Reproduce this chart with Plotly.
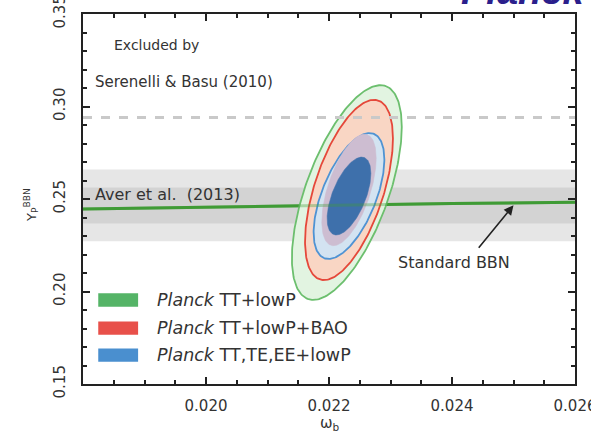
import numpy as np
import plotly.graph_objects as go

# ---------------- data ----------------
xrange_ = [0.018, 0.026]
yrange_ = [0.15, 0.35]
x_ticks = [0.020, 0.022, 0.024, 0.026]
x_ticklabels = ["0.020", "0.022", "0.024", "0.026"]
y_ticks = [0.15, 0.20, 0.25, 0.30, 0.35]
y_ticklabels = ["0.15", "0.20", "0.25", "0.30", "0.35"]

# Standard BBN prediction Yp(omega_b)
bbn_omegab = [0.018, 0.020, 0.022, 0.024, 0.026]
bbn_yp = [0.2446, 0.2457, 0.2467, 0.2475, 0.2482]

# Aver et al. (2013) helium measurement
aver_mean = 0.2465
aver_sigma = 0.0097

# Serenelli & Basu (2010) upper limit
serenelli_limit = 0.294

# Planck posterior (Gaussian approximation): mean wb, mean Yp, sigma wb, sigma Yp, rho
series_names = ["TT+lowP", "TT+lowP+BAO", "TT,TE,EE+lowP"]
mean_wb = [0.02229, 0.022325, 0.022325]
mean_yp = [0.2535, 0.2549, 0.2516]
sig_wb = [0.000365, 0.000292, 0.000235]
sig_yp = [0.0237, 0.0199, 0.0139]
rho = [0.61, 0.57, 0.58]

r68 = 1.515
r95 = 2.448

line_colors = ["#6cbf6e", "#e5483a", "#4f93d3"]
fill95 = ["#e2f4e1", "#f9d6c4", "#d3e3f1"]
fill68 = ["#b9e0b6", "#cdbdd1", "#3e70ab"]
legend_colors = ["#55b467", "#e8504a", "#4a8fcf"]


def ellipse(i, r):
    t = np.linspace(0, 2 * np.pi, 240)
    x = mean_wb[i] + r * sig_wb[i] * np.cos(t)
    y = mean_yp[i] + r * sig_yp[i] * (rho[i] * np.cos(t) + np.sqrt(1 - rho[i] ** 2) * np.sin(t))
    return x, y


fig = go.Figure()

# BBN line underneath
fig.add_trace(go.Scatter(x=bbn_omegab, y=bbn_yp, mode="lines",
                         line=dict(color="#3f9b35", width=3), showlegend=False, hoverinfo="skip"))

# contours: green, red, blue
order = [(0, 95), (0, 68), (1, 95), (2, 95), (1, 68), (2, 68)]
for i, lev in order:
    r = r95 if lev == 95 else r68
    x, y = ellipse(i, r)
    if lev == 95:
        fig.add_trace(go.Scatter(x=x, y=y, mode="lines", fill="toself", fillcolor=fill95[i],
                                 line=dict(color=line_colors[i], width=1.8),
                                 showlegend=False, hoverinfo="skip"))
    else:
        fig.add_trace(go.Scatter(x=x, y=y, mode="lines", fill="toself", fillcolor=fill68[i],
                                 line=dict(color=fill68[i], width=0.5),
                                 showlegend=False, hoverinfo="skip"))

# BBN line faintly on top
fig.add_trace(go.Scatter(x=bbn_omegab, y=bbn_yp, mode="lines", opacity=0.35,
                         line=dict(color="#3f9b35", width=3), showlegend=False, hoverinfo="skip"))

shapes = [
    dict(type="rect", xref="paper", x0=0, x1=1, yref="y",
         y0=aver_mean - 2 * aver_sigma, y1=aver_mean + 2 * aver_sigma,
         fillcolor="#e6e6e6", line=dict(width=0), layer="below"),
    dict(type="rect", xref="paper", x0=0, x1=1, yref="y",
         y0=aver_mean - aver_sigma, y1=aver_mean + aver_sigma,
         fillcolor="#d3d3d3", line=dict(width=0), layer="below"),
    dict(type="line", xref="paper", x0=0, x1=1, yref="y", y0=serenelli_limit, y1=serenelli_limit,
         line=dict(color="#c9c9c9", width=3, dash="dash"), layer="above"),
]

# legend swatches (layout)
leg_y = [0.227, 0.151, 0.078]
for k in range(3):
    shapes.append(dict(type="rect", xref="paper", yref="paper", x0=0.031, x1=0.112,
                       y0=leg_y[k] - 0.018, y1=leg_y[k] + 0.018,
                       fillcolor=legend_colors[k], line=dict(width=0), layer="above"))

txt = dict(family="DejaVu Sans, Open Sans, sans-serif", size=15, color="#333333")
annotations = [
    dict(x=0.01847, y=0.3332, xref="x", yref="y", text="Excluded by", showarrow=False,
         xanchor="left", yanchor="middle", font=dict(txt, size=14)),
    dict(x=0.01816, y=0.3132, xref="x", yref="y", text="Serenelli &amp; Basu (2010)", showarrow=False,
         xanchor="left", yanchor="middle", font=dict(txt, size=15)),
    dict(x=0.01816, y=0.2522, xref="x", yref="y", text="Aver et al.  (2013)", showarrow=False,
         xanchor="left", yanchor="middle", font=dict(txt, size=16)),
    dict(x=0.02309, y=0.2159, xref="x", yref="y", text="Standard BBN", showarrow=False,
         xanchor="left", yanchor="middle", font=dict(txt, size=16)),
    dict(x=0.02500, y=0.2466, xref="x", yref="y", text="", showarrow=True,
         ax=-36, ay=44, arrowhead=2, arrowsize=1.2, arrowwidth=1.6, arrowcolor="#222222"),
    dict(x=-0.128, y=0.484, xref="paper", yref="paper", text="Y<sub>P</sub><sup>BBN</sup>",
         showarrow=False, textangle=-90, font=dict(txt, size=13)),
    dict(x=0.502, y=-0.138, xref="paper", yref="paper", text="ω<sub>b</sub>",
         showarrow=False, font=dict(txt, size=15)),
    dict(x=1.024, y=1.0, xref="paper", yref="paper", text="<b><i>Planck</i></b>",
         showarrow=False, xanchor="right", yanchor="bottom",
         font=dict(family="Liberation Sans, Arial, sans-serif", size=38, color="#2b1f8c")),
]
for k in range(3):
    annotations.append(dict(x=0.146, y=leg_y[k], xref="paper", yref="paper",
                            text="<i>Planck</i> " + series_names[k], showarrow=False,
                            xanchor="left", yanchor="middle", font=dict(txt, size=17.5)))

axis_common = dict(showline=True, linecolor="#222222", linewidth=2.2, mirror="ticks",
                   ticks="inside", ticklen=7, tickwidth=1.5, tickcolor="#222222",
                   showgrid=False, zeroline=False, ticklabeloverflow="allow", automargin=False,
                   tickfont=dict(family="DejaVu Sans, Open Sans, sans-serif", size=15, color="#333333"))

fig.update_layout(
    width=591, height=441,
    margin=dict(l=83, r=16, t=14, b=57, autoexpand=False),
    paper_bgcolor="white", plot_bgcolor="white",
    showlegend=False,
    shapes=shapes, annotations=annotations,
    xaxis=dict(axis_common, range=xrange_, tickvals=x_ticks,
               ticktext=x_ticklabels, ticklabelstandoff=7,
               minor=dict(ticks="inside", dtick=0.0005, ticklen=4, tickcolor="#222222", showgrid=False)),
    yaxis=dict(axis_common, range=yrange_, tickvals=y_ticks,
               ticktext=y_ticklabels, tickangle=-90, ticklabelstandoff=10,
               minor=dict(ticks="inside", dtick=0.01, ticklen=4, tickcolor="#222222", showgrid=False)),
)

fig.write_html("out.html")
